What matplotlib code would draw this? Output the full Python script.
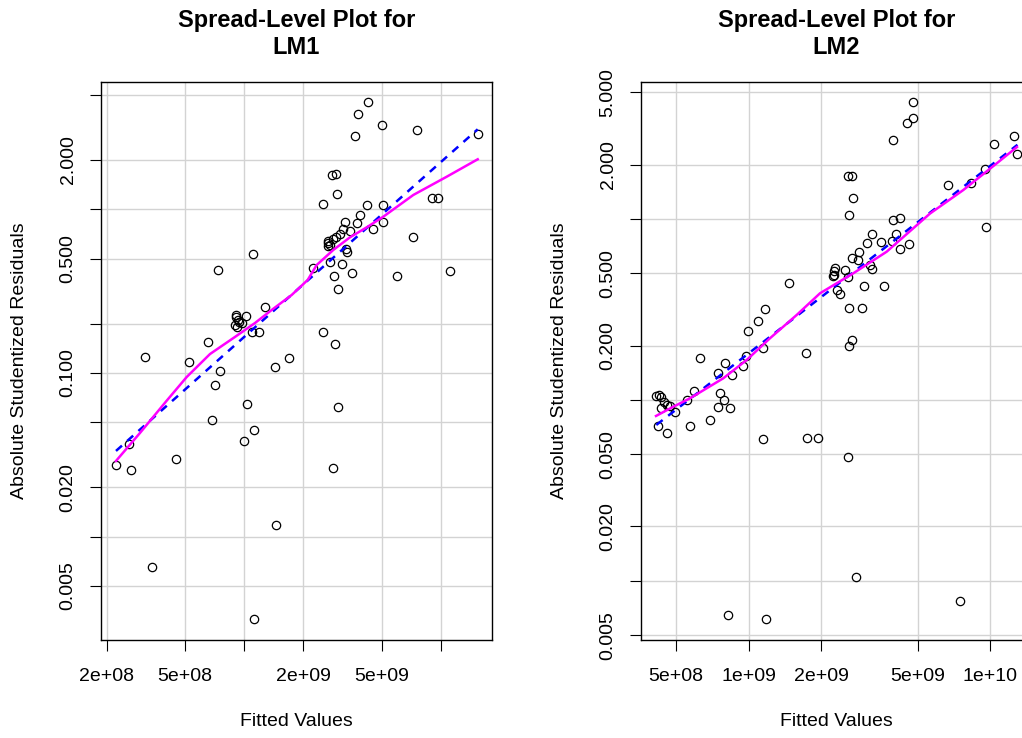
import matplotlib
matplotlib.use('Agg')
import matplotlib.pyplot as plt
from matplotlib.ticker import NullLocator

plt.rcParams['font.family'] = ['Liberation Sans', 'DejaVu Sans']

W, H = 1022, 738

# LM1: fitted values and absolute studentized residuals
lm1_fitted = [3.12e8, 5.23e8, 6.50e8, 7.32e8, 7.52e8, 7.12e8, 1.103e9,
              9.02e8, 9.12e8, 9.29e8, 8.96e8, 9.40e8, 9.73e8, 1.020e9, 9.18e8,
              1.274e9, 1.088e9, 1.183e9, 1.437e9, 1.688e9, 2.223e9, 2.505e9, 2.903e9,
              2.505e9, 2.803e9, 2.917e9, 2.952e9, 4.196e9, 5.06e9, 3.879e9,
              5.095e9, 3.73e9, 3.265e9, 4.516e9, 3.167e9, 3.45e9, 2.911e9, 3.057e9, 2.666e9, 2.675e9,
              2.666e9, 2.729e9, 2.817e9, 3.304e9, 3.319e9, 2.729e9, 3.13e9, 2.867e9, 3.519e9, 2.997e9,
              5.964e9, 3.67e9, 3.776e9, 4.26e9, 5.036e9, 7.193e9, 7.54e9, 8.986e9, 9.71e9, 1.116e10, 1.54e10,
              1.035e9, 2.987e9, 6.87e8, 1.12e9, 9.96e8, 2.579e8, 2.223e8, 2.659e8, 4.507e8, 2.817e9,
              1.454e9, 3.402e8, 1.12e9]
lm1_resid = [0.1258, 0.1167, 0.1553, 0.4241, 0.1033, 0.0839, 0.5334,
             0.2277, 0.2199, 0.2108, 0.1965, 0.2035, 0.2020, 0.2214, 0.1897,
             0.2513, 0.1788, 0.1788, 0.1093, 0.1240, 0.4411, 0.1788, 0.1503,
             1.082, 1.621, 1.644, 1.246, 1.063, 1.058, 0.921,
             0.837, 0.829, 0.831, 0.758, 0.756, 0.739, 0.678, 0.702, 0.643, 0.620,
             0.597, 0.605, 0.656, 0.570, 0.551, 0.477, 0.462, 0.394, 0.410, 0.327,
             0.389, 2.806, 3.84, 4.508, 3.276, 0.673, 3.053, 1.181, 1.181, 0.417, 2.886,
             0.0644, 0.0620, 0.0518, 0.0450, 0.0386, 0.0368, 0.0275, 0.0257, 0.0297, 0.0262,
             0.01183, 0.0065, 0.00315]

# LM2
lm2_fitted = [4.77e9, 4.77e9, 4.53e9, 3.95e9, 1.253e10, 1.035e10, 1.295e10,
              6.66e9, 8.32e9, 9.50e9, 9.59e9,
              2.576e9, 2.677e9, 2.71e9, 2.594e9, 3.967e9, 4.229e9, 3.248e9, 4.083e9,
              3.102e9, 3.535e9, 3.918e9, 4.229e9, 4.598e9, 2.855e9, 2.685e9, 2.839e9,
              3.186e9, 3.248e9, 2.272e9, 2.255e9, 2.248e9, 2.24e9, 2.504e9, 2.572e9,
              2.987e9, 3.631e9, 2.327e9, 2.394e9, 2.606e9, 2.953e9, 2.601e9, 2.669e9,
              1.727e9, 1.464e9, 1.168e9, 1.098e9, 9.98e8, 1.15e9, 9.78e8, 9.43e8,
              8.557e8, 7.98e8, 7.485e8, 6.26e8, 7.59e8, 5.94e8,
              4.148e8, 4.268e8, 4.325e8, 4.476e8, 4.58e8, 4.325e8, 4.726e8, 4.933e8,
              5.54e8, 7.906e8, 7.485e8, 8.346e8, 6.918e8, 5.70e8, 4.227e8, 4.607e8,
              1.141e9, 1.748e9, 1.93e9, 2.569e9, 2.789e9, 8.236e8, 1.179e9, 7.49e9]
lm2_resid = [4.41, 3.63, 3.41, 2.73, 2.86, 2.61, 2.29,
             1.535, 1.587, 1.889, 0.907,
             1.717, 1.717, 1.311, 1.048, 0.984, 1.013, 0.826, 0.829,
             0.740, 0.749, 0.759, 0.683, 0.728, 0.653, 0.611, 0.592,
             0.557, 0.527, 0.538, 0.516, 0.490, 0.484, 0.523, 0.478,
             0.429, 0.429, 0.403, 0.384, 0.324, 0.324, 0.1995, 0.2146,
             0.1818, 0.4445, 0.3175, 0.2715, 0.239, 0.1938, 0.175, 0.1547,
             0.1366, 0.1601, 0.1414, 0.1706, 0.1093, 0.1126,
             0.1048, 0.1066, 0.1039, 0.0979, 0.0938, 0.0901, 0.0923, 0.0862,
             0.1006, 0.0996, 0.0918, 0.0900, 0.0780, 0.0721, 0.0721, 0.0657,
             0.0605, 0.0614, 0.0614, 0.0482, 0.01048, 0.00649, 0.00619, 0.00772]

# robust linear fits (end points) and lowess smooths
lm1_fit_x = [2.223e8, 1.54e10]
lm1_fit_y = [0.0334, 3.083]
lm1_smooth_x = [2.223e8, 2.944e8, 4.026e8, 5.09e8, 6.69e8, 8.96e8, 1.133e9, 1.378e9, 1.742e9,
                2.1e9, 2.335e9, 2.836e9, 3.45e9, 4.196e9, 5.095e9, 7.244e9, 1.071e10, 1.54e10]
lm1_smooth_y = [0.0290, 0.0430, 0.0677, 0.0945, 0.1306, 0.1660, 0.2020, 0.2427, 0.2997,
                0.3700, 0.4570, 0.5645, 0.6748, 0.7764, 0.9016, 1.224, 1.582, 2.022]

lm2_fit_x = [4.148e8, 1.295e10]
lm2_fit_y = [0.0728, 2.570]
lm2_smooth_x = [4.136e8, 4.877e8, 5.72e8, 6.706e8, 7.852e8, 9.81e8, 1.225e9, 1.58e9,
                1.973e9, 2.71e9, 3.725e9, 5.628e9, 7.73e9, 1.063e10, 1.289e10]
lm2_smooth_y = [0.0816, 0.0918, 0.1022, 0.1161, 0.1318, 0.1663, 0.2193, 0.2949,
                0.3886, 0.5012, 0.6598, 1.072, 1.446, 2.031, 2.499]

y_ticks = [5, 2, 1, 0.5, 0.2, 0.1, 0.05, 0.02, 0.01, 0.005]
lm1_ylabels = ['', '2.000', '', '0.500', '', '0.100', '', '0.020', '', '0.005']
lm2_ylabels = ['5.000', '2.000', '', '0.500', '0.200', '', '0.050', '0.020', '', '0.005']
lm1_xticks = [2e8, 5e8, 1e9, 2e9, 5e9, 1e10]
lm1_xlabels = ['2e+08', '5e+08', '', '2e+09', '5e+09', '']
lm2_xticks = [5e8, 1e9, 2e9, 5e9, 1e10]
lm2_xlabels = ['5e+08', '1e+09', '2e+09', '5e+09', '1e+10']


def spread_level(ax, fitted, resid, fit_x, fit_y, sm_x, sm_y,
                 xlim, ylim, xticks, xlabels, ylabels):
    ax.set_xscale('log')
    ax.set_yscale('log')
    ax.set_xlim(xlim)
    ax.set_ylim(ylim)
    ax.set_xticks(xticks)
    ax.set_xticklabels(xlabels)
    ax.set_yticks(y_ticks)
    ax.set_yticklabels(ylabels)
    ax.xaxis.set_minor_locator(NullLocator())
    ax.yaxis.set_minor_locator(NullLocator())
    ax.grid(True, color='#d3d3d3', lw=1.0)
    ax.set_axisbelow(True)
    ax.tick_params(direction='out', length=8, width=0.8, labelsize=14, colors='black')
    ax.tick_params(axis='x', pad=12)
    ax.tick_params(axis='y', pad=9.5)
    plt.setp(ax.get_yticklabels(), rotation=90, va='center')
    for s in ax.spines.values():
        s.set_linewidth(1.0)
    ax.plot(fitted, resid, 'o', mfc='none', mec='black', ms=6, mew=0.9)
    ax.plot(fit_x, fit_y, color='blue', lw=1.8, ls=(0, (3.2, 2.8)))
    ax.plot(sm_x, sm_y, color='magenta', lw=1.8)


fig = plt.figure(figsize=(W / 100, H / 100), dpi=100)
ax1 = fig.add_axes([101 / W, 1 - 640 / H, 391 / W, 558 / H])
ax2 = fig.add_axes([641 / W, 1 - 640 / H, 391 / W, 558 / H])

spread_level(ax1, lm1_fitted, lm1_resid, lm1_fit_x, lm1_fit_y, lm1_smooth_x, lm1_smooth_y,
             (1.865e8, 1.821e10), (0.002336, 5.998), lm1_xticks, lm1_xlabels, lm1_ylabels)
spread_level(ax2, lm2_fitted, lm2_resid, lm2_fit_x, lm2_fit_y, lm2_smooth_x, lm2_smooth_y,
             (3.585e8, 1.487e10), (0.00472, 5.713), lm2_xticks, lm2_xlabels, lm2_ylabels)

for cx, name in [(296.5, 'LM1'), (836.5, 'LM2')]:
    fig.text(cx / W, 1 - 21 / H, 'Spread-Level Plot for', ha='center', va='center',
             fontsize=17, fontweight='bold')
    fig.text(cx / W, 1 - 48 / H, name, ha='center', va='center',
             fontsize=17, fontweight='bold')
    fig.text(cx / W, 1 - 722 / H, 'Fitted Values', ha='center', va='center', fontsize=14)

for lx in (20, 560):
    fig.text(lx / W, 1 - 361 / H, 'Absolute Studentized Residuals', rotation=90,
             ha='center', va='center', fontsize=14)

fig.savefig('out.png', dpi=100)
